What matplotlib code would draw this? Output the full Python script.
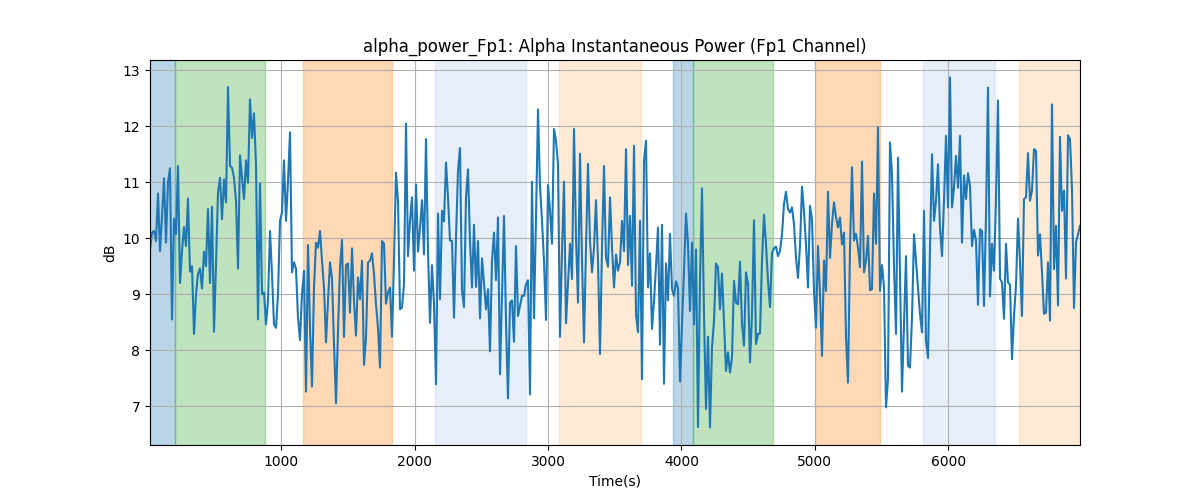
import numpy as np
import matplotlib
matplotlib.use("Agg")
import matplotlib.pyplot as plt

# sample times: first sample and step (s)
t_start = 14
t_step = 15

# alpha power values (dB) in chunks
seg1 = [9.8, 10.1, 10.13, 9.95, 10.8, 9.77, 10.4, 11.07, 9.92, 11.0, 11.25, 8.55, 10.35, 10.07,
        11.29, 9.2, 9.77, 10.2, 9.86, 10.71, 9.4, 9.5, 8.29, 9.0, 9.36, 9.46, 9.1, 9.76, 9.5,
        10.52, 9.2, 10.56, 8.33, 9.53, 10.82, 11.08, 10.34, 11.05, 10.64, 12.7, 11.29, 11.26,
        11.08, 10.67, 9.46, 11.48, 11.08, 10.7, 11.39, 10.99, 12.48, 11.79, 12.23, 11.32, 8.55,
        10.98, 9.0, 9.03, 8.46]
seg2 = [8.88, 10.13, 9.36, 8.46, 8.4, 9.0, 10.31, 10.46, 11.39, 10.31, 11.02, 11.89, 9.39, 9.57,
        9.45, 8.58, 8.18, 9.0, 9.42, 7.26, 9.88, 8.4, 7.35, 9.12, 9.92, 9.83, 10.13, 9.6, 9.12,
        8.14, 8.88, 9.57, 9.27, 8.11, 7.05, 8.35, 9.48, 9.97, 8.24, 9.52, 9.55, 8.67, 9.82, 8.88,
        8.26, 9.3, 8.91, 9.6, 7.74, 8.23, 9.57, 9.6, 9.73, 9.36, 8.82, 8.4, 7.69, 9.95]
seg3 = [9.9, 8.83, 9.03, 9.12, 8.24, 9.6, 11.17, 10.67, 8.73, 8.76, 9.18, 12.05, 9.68, 10.31,
        10.73, 9.42, 10.96, 9.76, 10.19, 10.68, 9.71, 11.77, 9.77, 8.49, 9.52, 8.82, 7.39, 10.44,
        8.91, 10.49, 10.3, 11.35, 10.73, 9.96, 9.95, 8.58, 10.01, 11.2, 11.61, 9.06, 8.77, 10.73,
        11.23, 9.95, 9.12, 10.24, 9.13, 9.95, 8.57, 9.64, 9.2, 8.73, 9.09, 7.98, 9.6, 10.1, 9.25,
        10.37]
seg4 = [7.57, 9.0, 10.4, 8.5, 7.14, 8.85, 8.89, 8.15, 9.86, 8.61, 8.79, 8.97, 8.97, 9.18, 9.25,
        7.21, 11.01, 8.57, 10.37, 12.3, 10.93, 10.31, 9.6, 8.54, 10.95, 10.49, 9.9, 11.95, 11.74,
        11.32, 8.24, 9.77, 11.01, 8.48, 9.18, 9.9, 9.27, 11.95, 10.01, 8.85, 11.51, 9.6, 8.14,
        9.83, 11.33, 9.95, 9.39, 9.83, 10.68, 9.6, 7.93, 9.83, 11.29, 9.65, 9.49, 10.73, 9.83,
        9.12]
seg5 = [9.71, 9.42, 9.57, 10.31, 9.77, 11.59, 9.52, 10.4, 9.15, 11.65, 8.64, 8.32, 10.31, 7.48,
        11.38, 11.74, 9.12, 9.73, 8.38, 8.88, 9.5, 10.19, 8.1, 10.24, 7.4, 9.55, 8.89, 10.08,
        9.09, 8.97, 9.23, 9.12, 7.44, 8.46, 9.42, 10.44, 9.89, 8.7, 9.92, 8.46, 9.8, 6.63, 9.24,
        10.89, 8.64, 6.95, 8.24, 6.62, 8.05, 8.52, 9.55, 9.48, 8.73, 9.37, 8.52, 7.63, 7.96, 7.6]
seg6 = [7.87, 9.24, 8.85, 8.82, 9.58, 8.46, 8.08, 9.39, 9.19, 7.78, 8.64, 10.32, 8.11, 8.29, 8.3,
        9.6, 10.42, 9.89, 9.24, 8.77, 9.74, 9.82, 9.85, 9.68, 9.77, 10.07, 10.61, 10.83, 10.52,
        10.46, 10.55, 10.25, 9.65, 9.29, 9.86, 10.92, 10.48, 9.89, 9.12, 10.58, 10.34, 9.06, 8.4,
        9.86, 9.0, 7.9, 9.6, 9.06, 10.83, 9.65, 10.26, 10.64, 10.38, 10.19, 10.37, 9.89, 10.1,
        8.23]
seg7 = [7.42, 9.83, 11.27, 9.96, 10.08, 9.83, 9.48, 11.37, 9.39, 9.6, 10.04, 9.07, 9.09, 10.8,
        9.9, 11.98, 9.06, 9.52, 9.12, 6.98, 7.48, 11.71, 11.14, 9.48, 8.29, 11.44, 9.36, 7.26,
        8.46, 9.68, 7.72, 7.69, 8.58, 10.07, 9.6, 9.12, 8.64, 8.32, 10.49, 8.17, 7.86, 9.83, 11.5,
        10.31, 10.67, 11.32, 10.19, 9.68, 10.67, 11.83, 10.55, 12.87, 10.55, 10.9, 11.47, 10.9,
        11.83, 9.92]
seg8 = [11.12, 10.7, 11.16, 10.93, 9.86, 10.15, 9.96, 8.81, 10.16, 10.13, 8.79, 10.4, 12.69, 8.96,
        9.9, 9.42, 10.7, 12.46, 9.28, 9.21, 8.56, 9.9, 9.21, 9.17, 7.84, 8.62, 9.15, 10.35, 9.57,
        8.61, 10.7, 10.73, 11.52, 10.67, 10.85, 11.59, 11.56, 9.69, 10.07, 9.39, 8.65, 8.67, 9.57,
        8.53, 12.39, 9.45, 10.22, 8.8, 11.81, 10.49, 10.85, 9.28, 11.84, 11.77, 10.88, 8.75, 9.93,
        10.07, 10.22]

# shaded intervals (s) and their colours
span_starts = [14, 199, 1159, 2149, 3079, 3934, 4084, 5000, 5810, 6530]
span_ends = [199, 874, 1827, 2832, 3694, 4084, 4685, 5487, 6350, 6989]
span_colors = ["tab:blue", "tab:green", "tab:orange", "#aec7e8", "#ffbb78",
               "tab:blue", "tab:green", "tab:orange", "#aec7e8", "#ffbb78"]

power = np.concatenate([seg1, seg2, seg3, seg4, seg5, seg6, seg7, seg8])
time = t_start + t_step * np.arange(len(power))

fig, ax = plt.subplots(figsize=(12, 5), dpi=100)

for start, end, col in zip(span_starts, span_ends, span_colors):
    ax.axvspan(start, end, color=col, alpha=0.3)

ax.plot(time, power, color="tab:blue")
ax.set_xlim(time[0], time[-1])
ax.grid(True)
ax.set_xlabel("Time(s)")
ax.set_ylabel("dB")
ax.set_title("alpha_power_Fp1: Alpha Instantaneous Power (Fp1 Channel)")

fig.savefig("out.png")
